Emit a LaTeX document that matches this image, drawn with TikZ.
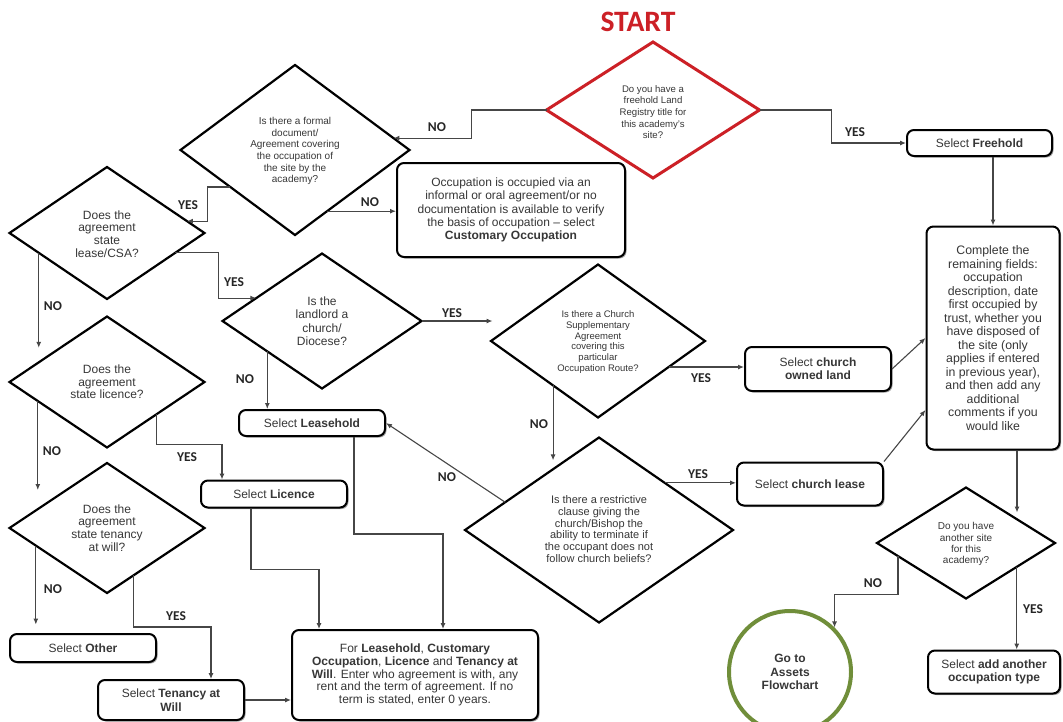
\documentclass[tikz,border=0pt]{standalone}
\usepackage{fontspec}
\setmainfont{Liberation Sans}
\newfontfamily\labfont{Carlito}
\usetikzlibrary{shapes.geometric,arrows.meta,calc,shadows}
\definecolor{startred}{RGB}{204,32,38}
\definecolor{txtgray}{RGB}{55,55,55}
\definecolor{lineg}{RGB}{70,70,70}
\definecolor{circgreen}{RGB}{112,142,58}
\begin{document}
\begin{tikzpicture}[x=1pt,y=-1pt,
  dia/.style={draw=black, line width=2.2pt, shape=diamond, inner sep=0pt, outer sep=0pt},
  qtxt/.style={align=center, text=txtgray, inner sep=0pt},
  box/.style={draw=black, line width=2pt, rounded corners=7pt, fill=white, align=center, text=txtgray, inner sep=2pt,
    font=\fontsize{12}{13.4}\selectfont,
    drop shadow={shadow xshift=1.5pt, shadow yshift=-1.5pt, opacity=0.35, fill=black}},
  conn/.style={draw=lineg, line width=1.1pt, -{Latex[length=6pt,width=5pt]}},
  lab/.style={font=\labfont\bfseries\fontsize{13.5}{14}\selectfont, text=black!85, inner sep=0pt}
]
\useasboundingbox[fill=white] (0,0) rectangle (1063,721);

% title
\node[font=\labfont\bfseries\fontsize{29.6}{30}\selectfont, text=startred, inner sep=0pt] (start) at (638,22) {START};

% decisions
\node[dia, draw=startred, line width=3pt, minimum width=213pt, minimum height=136pt] (q0) at (653,110) {};
\node[qtxt, font=\fontsize{9.6}{11.7}\selectfont] (q0t) at (653,112) {Do you have a\\freehold Land\\Registry title for\\this academy's\\site?};

\node[dia, minimum width=229pt, minimum height=170pt] (q1) at (295,150) {};
\node[qtxt, font=\fontsize{10}{11.7}\selectfont] (q1t) at (295,151) {Is there a formal\\document/\\Agreement covering\\the occupation of\\the site by the\\academy?};

\node[dia, minimum width=195pt, minimum height=132pt] (q2) at (107,233) {};
\node[qtxt, font=\fontsize{12}{12.6}\selectfont] (q2t) at (107,234) {Does the\\agreement\\state\\lease/CSA?};

\node[dia, minimum width=199pt, minimum height=135pt] (q3) at (322,321) {};
\node[qtxt, font=\fontsize{12}{13.5}\selectfont] (q3t) at (322,321) {Is the\\landlord a\\church/\\Diocese?};

\node[dia, minimum width=195pt, minimum height=131pt] (q4) at (107,382) {};
\node[qtxt, font=\fontsize{12}{12.6}\selectfont] (q4t) at (107,382) {Does the\\agreement\\state licence?};

\node[dia, minimum width=195pt, minimum height=130pt] (q5) at (107,528) {};
\node[qtxt, font=\fontsize{12}{12.6}\selectfont] (q5t) at (107,528) {Does the\\agreement\\state tenancy\\at will?};

\node[dia, minimum width=214pt, minimum height=153pt] (q6) at (598,341) {};
\node[qtxt, font=\fontsize{9.5}{10.7}\selectfont] (q6t) at (598,342) {Is there a Church\\Supplementary\\Agreement\\covering this\\particular\\Occupation Route?};

\node[dia, minimum width=268pt, minimum height=185pt] (q7) at (599,530) {};
\node[qtxt, font=\fontsize{11}{11.8}\selectfont] (q7t) at (599,529) {Is there a restrictive\\clause giving the\\church/Bishop the\\ability to terminate if\\the occupant does not\\follow church beliefs?};

\node[dia, minimum width=178pt, minimum height=111pt] (q8) at (966,543) {};
\node[qtxt, font=\fontsize{10}{11.1}\selectfont] (q8t) at (966,544) {Do you have\\another site\\for this\\academy?};

% boxes
\node[box, minimum width=145pt, minimum height=26pt] (freehold) at (979.5,143) {Select \textbf{Freehold}};
\node[box, minimum width=228pt, minimum height=94pt, font=\fontsize{12}{13.3}\selectfont] (custom) at (511,210) {Occupation is occupied via an\\informal or oral agreement/or no\\documentation is available to verify\\the basis of occupation – select\\\textbf{Customary Occupation}};
\node[box, minimum width=146pt, minimum height=26pt] (leasehold) at (312,423) {Select \textbf{Leasehold}};
\node[box, minimum width=146pt, minimum height=27pt] (licbox) at (274,494) {Select \textbf{Licence}};
\node[box, minimum width=146pt, minimum height=28pt] (other) at (83,648) {Select \textbf{Other}};
\node[box, minimum width=146pt, minimum height=40pt] (tenbox) at (171,700) {Select \textbf{Tenancy at}\\\textbf{Will}};
\node[box, minimum width=246pt, minimum height=90pt, font=\fontsize{12}{12.7}\selectfont] (bigbox) at (415,675) {For \textbf{Leasehold}, \textbf{Customary}\\\textbf{Occupation}, \textbf{Licence} and \textbf{Tenancy at}\\\textbf{Will}. Enter who agreement is with, any\\rent and the term of agreement. If no\\term is stated, enter 0 years.};
\node[box, minimum width=146pt, minimum height=44pt] (churchland) at (818,369) {Select \textbf{church}\\\textbf{owned land}};
\node[box, minimum width=146pt, minimum height=43pt] (churchlease) at (810,484) {Select \textbf{church lease}};
\node[box, minimum width=133pt, minimum height=223pt, font=\fontsize{12.3}{13.5}\selectfont] (complete) at (993,338) {Complete the\\remaining fields:\\occupation\\description, date\\first occupied by\\trust, whether you\\have disposed of\\the site (only\\applies if entered\\in previous year),\\and then add any\\additional\\comments if you\\would like};
\node[box, minimum width=132pt, minimum height=43pt] (addanother) at (994,672) {Select \textbf{add another}\\\textbf{occupation type}};
\node[circle, draw=circgreen, line width=4pt, minimum size=122pt, inner sep=0pt, align=center, text=txtgray,
  font=\bfseries\fontsize{12}{13.4}\selectfont] (circ) at (790,672) {Go to\\Assets\\Flowchart};

% edge points
\coordinate (q1in) at ($(q1.north)!0.86!(q1.east)$);
\coordinate (q1no) at ($(q1.east)!0.72!(q1.south)$);
\coordinate (q1yes) at ($(q1.west)!0.435!(q1.south)$);
\coordinate (q2in) at ($(q2.north)!0.82!(q2.east)$);
\coordinate (q2yes) at ($(q2.east)!0.3!(q2.south)$);
\coordinate (q3in) at ($(q3.west)!0.34!(q3.north)$);
\coordinate (q2no) at ($(q2.west)!0.3!(q2.south)$);
\coordinate (q3no) at ($(q3.west)!0.45!(q3.south)$);
\coordinate (q4no) at ($(q4.west)!0.29!(q4.south)$);
\coordinate (q4yes) at ($(q4.east)!0.49!(q4.south)$);
\coordinate (q5no) at ($(q5.west)!0.27!(q5.south)$);
\coordinate (q5yes) at ($(q5.east)!0.73!(q5.south)$);
\coordinate (q6yes) at ($(q6.east)!0.34!(q6.south)$);
\coordinate (q6no) at ($(q6.west)!0.58!(q6.south)$);
\coordinate (q7yes) at ($(q7.north)!0.49!(q7.east)$);
\coordinate (q7no) at ($(q7.west)!0.3!(q7.north)$);
\coordinate (q8no) at ($(q8.west)!0.236!(q8.south)$);
\coordinate (q8yes) at ($(q8.east)!0.43!(q8.south)$);

% connectors
\draw[conn] (q0.west) -- ++(-75,0) |- (q1in);
\draw[conn] (q0.east) -- ++(72,0) |- (freehold.west);
\draw[conn] (freehold.south -| complete.north) -- (complete.north);
\draw[conn] (q1no) -- (q1no -| custom.west);
\draw[conn] (q1yes) -- ++(-23,0) |- (q2in);
\draw[conn] (q2yes) -- ++(43,0) |- (q3in);
\draw[conn] (q2no) -- ++(0,95);
\draw[conn] (q3no) -- (q3no |- leasehold.north);
\draw[conn] (q4no) -- ++(0,89);
\draw[conn] (q4yes) |- ($(licbox.north)+(-52,-35)$) -- ($(licbox.north)+(-52,0)$);
\draw[conn] (q5no) -- ++(0,79);
\draw[conn] (q5yes) |- ($(tenbox.north)+(40,-52)$) -- ($(tenbox.north)+(40,0)$);
\draw[conn] (tenbox.east) -- (tenbox.east -| bigbox.west);
\draw[conn] ($(licbox.south)+(-23,0)$) -- ++(0,61) -| ($(bigbox.north)+(-96,0)$);
\draw[conn] ($(leasehold.south)+(42,0)$) -- ++(0,97) -| ($(bigbox.north)+(28,0)$);
\draw[conn] (q3.east) -- ++(71,0);
\draw[conn] (q6yes) -- (q6yes -| churchland.west);
\draw[conn] (q6no) -- ++(0,75);
\draw[conn] (q7yes) -- (q7yes -| churchlease.west);
\draw[conn] (q7no) -- (leasehold.east);
\draw[conn] (churchland.east) -- (complete.west);
\draw[conn] (churchlease.north east) -- ($(complete.west)+(0,72)$);
\draw[conn] ($(complete.south)+(24,0)$) -- ++(0,62);
\draw[conn] (q8no) -- ++(0,38) -| (circ.north east);
\draw[conn] (q8yes) -- (q8yes |- addanother.north);

% labels
\node[lab] (l1) at (437,127) {NO};
\node[lab] (l2) at (855,132) {YES};
\node[lab] (l3) at (370,202) {NO};
\node[lab] (l4) at (188,205) {YES};
\node[lab] (l5) at (234,282) {YES};
\node[lab] (l6) at (53,306) {NO};
\node[lab] (l7) at (245,379) {NO};
\node[lab] (l8) at (452,313) {YES};
\node[lab] (l9) at (701,378) {YES};
\node[lab] (l10) at (539,424) {NO};
\node[lab] (l11) at (52,451) {NO};
\node[lab] (l12) at (187,457) {YES};
\node[lab] (l13) at (698,474) {YES};
\node[lab] (l14) at (447,477) {NO};
\node[lab] (l15) at (53,589) {NO};
\node[lab] (l16) at (176,616) {YES};
\node[lab] (l17) at (873,583) {NO};
\node[lab] (l18) at (1033,609) {YES};
\end{tikzpicture}
\end{document}
